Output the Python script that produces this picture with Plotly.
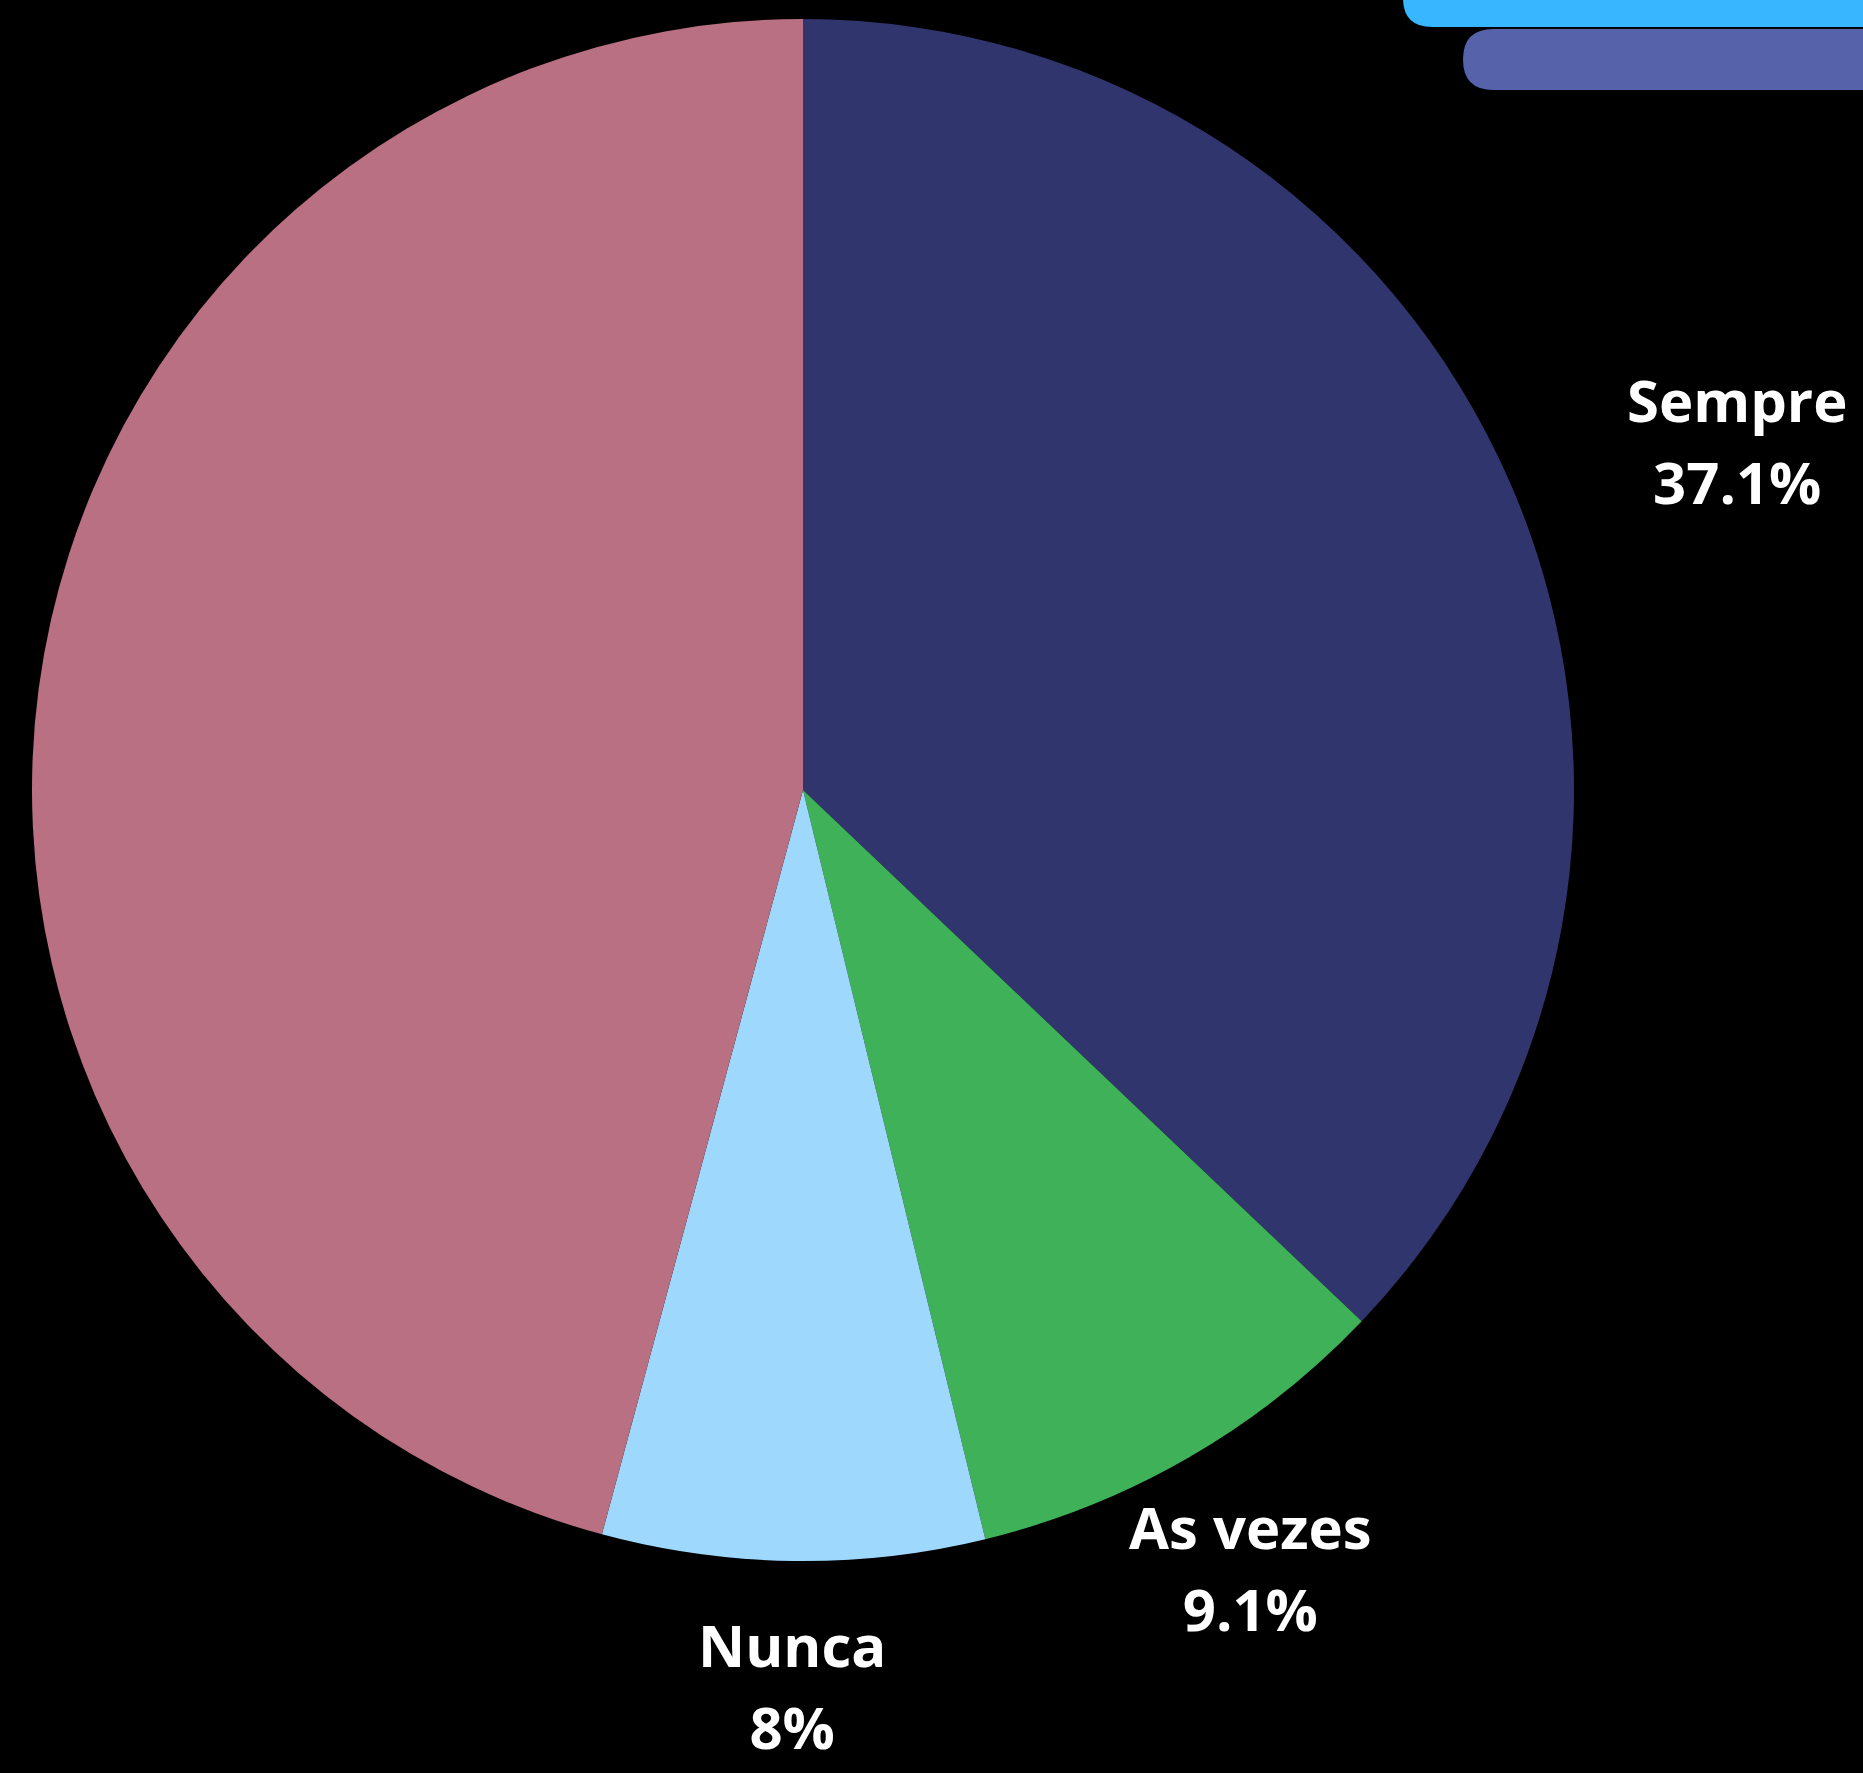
import plotly.graph_objects as go

W, H = 1863, 1773

labels = ["Sempre", "As vezes", "Nunca", "Frequentemente"]
values = [37.1, 9.1, 8.0, 45.8]
colors = ["#31356E", "#3EB159", "#9ED8FC", "#B87082"]

# label block centres (pixels from top-left); the 4th label lies off the canvas
label_pos = {"Sempre": (1737, 441), "As vezes": (1250, 1567), "Nunca": (792, 1685)}

fig = go.Figure(go.Pie(
    labels=labels,
    values=values,
    marker=dict(colors=colors, line=dict(width=0)),
    sort=False,
    direction="clockwise",
    rotation=0,
    textinfo="none",
    showlegend=False,
    domain=dict(x=[32 / W, 1574 / W], y=[1 - 1561 / H, 1 - 19 / H]),
    hoverinfo="label+percent",
))

total = sum(values)
annotations = []
for lab, val in zip(labels, values):
    if lab not in label_pos:
        continue
    pct = f"{100 * val / total:.3g}%"
    x, y = label_pos[lab]
    annotations.append(dict(
        x=x / W, y=1 - y / H, xref="paper", yref="paper",
        xanchor="center", yanchor="middle", showarrow=False,
        text=f"<span style='font-size:58px'>{lab}</span><br><span style='font-size:58px'>{pct}</span>",
        font=dict(family="Open Sans", size=63, color="white", weight="bold"),
    ))

def px(x, y):
    return f"{x / W:.6f},{1 - y / H:.6f}"

# decorative rounded bars at top right
r1 = 29
cyan = (f"M {px(1403, -40)} L {px(1403, 27 - r1)} Q {px(1403, 27)} {px(1403 + r1, 27)} "
        f"L {px(1900, 27)} L {px(1900, -40)} Z")
r2 = 30.5
purple = (f"M {px(1463 + r2, 29)} Q {px(1463, 29)} {px(1463, 59.5)} Q {px(1463, 90)} {px(1463 + r2, 90)} "
          f"L {px(1900, 90)} L {px(1900, 29)} Z")

fig.update_layout(
    width=W, height=H,
    paper_bgcolor="black", plot_bgcolor="black",
    margin=dict(l=0, r=0, t=0, b=0),
    annotations=annotations,
    shapes=[
        dict(type="path", xref="paper", yref="paper", path=cyan, fillcolor="#38B6FF", line=dict(width=0), layer="above"),
        dict(type="path", xref="paper", yref="paper", path=purple, fillcolor="#5662AA", line=dict(width=0), layer="above"),
    ],
)

fig.write_html(
    "out.html",
    config={"displayModeBar": False},
    post_script="document.body.style.margin='0';document.body.style.background='black';",
)
